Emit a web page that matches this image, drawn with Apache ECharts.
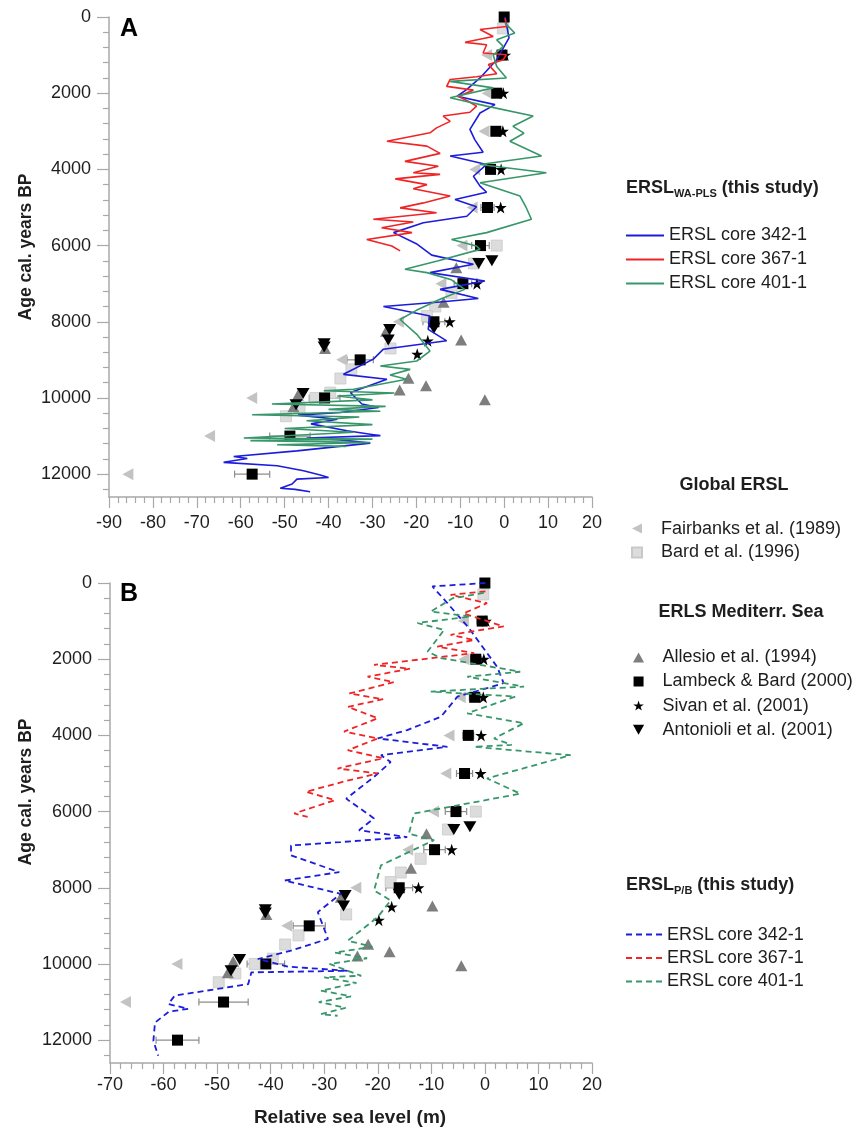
<!DOCTYPE html>
<html>
<head>
<meta charset="utf-8">
<script src="https://cdn.jsdelivr.net/npm/echarts@6/dist/echarts.min.js"></script>
<style>
html,body{margin:0;padding:0;background:#fff;}
#chart{width:862px;height:1130px;}
</style>
</head>
<body>
<div id="chart"></div>
<script>
// ---------- tick labels ----------
const ageTicks = [0, 2000, 4000, 6000, 8000, 10000, 12000];
const ageMinorTicks = [400,800,1200,1600,2400,2800,3200,3600,4400,4800,5200,5600,6400,6800,7200,7600,8400,8800,9200,9600,10400,10800,11200,11600,12400];
const AGE_MAX = 12600;

// ---------- reference data points [sea level (m), age cal. BP] ----------
const fairbanks = [[-85.7,12000],[-67.1,11000],[-57.5,10000],[-37,9000],[-24.1,8000],[-14.4,7000],[-9.6,6000],[-7.3,5000],[-6.7,4000],[-4.6,3000],[-3.9,2000],[-4,1000],[-0.3,200]];
const bard = [[-0.3,300],[-1.7,6000],[-6.9,6470],[-12,7240],[-15.7,7600],[-17.6,7850],[-25.9,8700],[-34.8,9250],[-37.3,9490],[-39.6,9860],[-43,10000],[-46.6,10250],[-49.7,10480]];
const allesio = [[-10.9,6580],[-13.8,7490],[-26.9,8250],[-9.8,8480],[-40.8,8700],[-21.8,9480],[-17.8,9680],[-23.8,9790],[-47,9930],[-48,10230],[-4.4,10050]];
const lambeck = [[0,0],[-0.5,1000],[-1.7,2000],[-1.9,3000],[-3.1,4000],[-3.8,5000],[-5.4,6000],[-9.4,7000],[-16,8000],[-32.8,9000],[-40.9,10000],[-48.8,11000],[-57.4,12000]];
const lambeckErr = [0.5,1,1,1,1,1.5,2,2,2.5,3,3.5,4.6,4];
const sivan = [[0.2,1000],[-0.2,2000],[-0.3,3000],[-0.7,4000],[-0.8,5000],[-6.2,7000],[-12.4,8000],[-17.4,8500],[-19.8,8850]];
const antonioli = [[-2.8,6400],[-5.8,6470],[-16,8170],[-26.1,8200],[-26.4,8480],[-41,8580],[-41,8660],[-45.8,9880],[-47.4,10180]];

// ---------- Panel A: ERSL WA-PLS curves ----------
const blueA = [[0.2,0],[1.1,550],[-1.7,1120],[-5.5,1600],[-8.5,1900],[-10.7,2080],[-2.1,2300],[-5.5,2520],[-7.8,2950],[-6.7,3220],[-4.8,3550],[-12.3,3650],[-4,3870],[-7,4180],[-5.5,4440],[-4,4600],[-11.2,4790],[-6.3,4980],[-8.5,5230],[-18.4,5400],[-25.2,5660],[-20,5950],[-16.5,6250],[-7,6490],[-16.9,6710],[-4.4,6930],[-14.6,7150],[-5.9,7390],[-14.6,7480],[-27.5,7600],[-16.9,7850],[-17.3,8200],[-13.1,8500],[-27.5,8720],[-29.8,8980],[-36.6,9380],[-26.7,9510],[-35,9860],[-32.4,10160],[-28.6,10250],[-37.3,10380],[-47,10450],[-38,10560],[-44,10680],[-35.8,10860],[-28.2,10990],[-45,11050],[-37.3,11100],[-30.5,11185],[-47.2,11390],[-61.6,11535],[-58.5,11590],[-63.9,11690],[-51.7,11780],[-45.7,11910],[-41.9,12020],[-40,12090],[-47.2,12130],[-48.3,12260],[-51,12370],[-47.6,12400],[-44.2,12460]];
const redA = [[0.2,30],[0.5,250],[-5.5,330],[-2.5,510],[-8.9,665],[-4,730],[-4.8,945],[0.5,990],[-0.2,1120],[-3.6,1250],[-1.7,1490],[-6.3,1570],[-12.3,1640],[-13.1,1820],[-7,1920],[-10.5,2080],[-8.2,2210],[-6.3,2340],[-7.8,2500],[-13.9,2600],[-12.3,2740],[-15.4,2910],[-16.9,3040],[-26.7,3260],[-17.6,3390],[-14.6,3580],[-22.6,3790],[-15,3920],[-20.7,4090],[-14.6,4130],[-24.8,4250],[-17.6,4400],[-20.7,4510],[-12.3,4700],[-18.4,4880],[-23.7,5010],[-15.4,5140],[-29.8,5310],[-20.7,5380],[-27.9,5530],[-21,5660],[-31.3,5840],[-25.6,6010],[-23.7,6140]];
const greenA = [[0.2,160],[2.4,420],[-1.7,600],[-0.2,770],[-2.5,1000],[-1.7,1300],[0.5,1600],[-12.3,1690],[-2.5,1860],[-12.3,2120],[-4,2340],[6.6,2600],[2,2870],[4.5,3050],[1.3,3260],[8.5,3650],[-5.5,3870],[9.6,4090],[-5.5,4350],[3.6,4700],[5,5000],[6.2,5310],[-4,5660],[-12,5840],[-6.3,6010],[-5.5,6100],[-15,6400],[-22.6,6620],[-17.6,6710],[-12,6900],[-9,7150],[-14.6,7410],[-20,7700],[-23.7,7940],[-19.9,8330],[-16.9,8770],[-19.9,9030],[-28.2,9160],[-21.4,9250],[-26,9400],[-22.2,9510],[-34.3,9770],[-41.1,9810],[-25,9870],[-38,9950],[-30,10050],[-52.9,10160],[-27,10220],[-40,10300],[-28.2,10350],[-57.4,10440],[-33,10500],[-45,10600],[-30,10700],[-50,10800],[-34.3,10900],[-59.3,11050],[-30,11080],[-57.8,11120],[-30.5,11170],[-51.7,11230],[-36,11270]];

// ---------- Panel B: ERSL P/B curves ----------
const blueB = [[0.1,0],[-9.8,90],[-7.3,480],[-3,1180],[0.4,1840],[2.3,2200],[3.5,2630],[0.4,2760],[-5.1,2980],[-8.2,3510],[-14.5,3860],[-20,4080],[-7,4300],[-19.4,4520],[-17.6,4700],[-20.7,5090],[-25.9,5660],[-20.7,6180],[-23.5,6490],[-14.5,6670],[-26.9,6800],[-36.2,6890],[-36.2,7150],[-27.2,7590],[-37.4,7810],[-26.9,8160],[-31.2,8640],[-29.3,9340],[-36.2,9650],[-42.4,9870],[-36.8,10070],[-25.6,10180],[-43.6,10220],[-44.2,10530],[-57.9,10830],[-59.1,11050],[-55.4,11180],[-59,11250],[-61.6,11540],[-61.9,12020],[-61,12410]];
const redB = [[0.1,220],[-6.4,310],[0.4,530],[-4,800],[3.5,1140],[-6.4,1360],[-2,1500],[-8.9,1670],[-2,1840],[-20.7,2150],[-14,2250],[-21.9,2460],[-17,2600],[-25.3,2900],[-19,3050],[-25.6,3250],[-20,3550],[-26.3,3900],[-20,4080],[-25.6,4390],[-19,4600],[-27.5,4870],[-20,5000],[-26,5200],[-33.4,5480],[-28,5700],[-35.6,6050],[-33.1,6140]];
const greenB = [[-0.2,260],[-6,400],[-10.1,750],[-2.7,880],[-12.6,1050],[-7.6,1230],[-10.7,1800],[-8.2,1970],[6.6,2330],[-3.3,2460],[7.3,2720],[-10.1,2850],[5.7,2980],[-3.3,3420],[7.3,3680],[1.7,4080],[5,4250],[-2,4300],[16,4520],[0.4,5130],[6.6,5530],[-13.2,6050],[-14.2,6580],[-9.5,6750],[-19.4,7410],[-20.7,8070],[-17.6,8330],[-20,8770],[-25.6,9390],[-21,9550],[-28,9700],[-22,9850],[-29,10000],[-23.1,10310],[-30,10350],[-24,10500],[-30.6,10700],[-25,10850],[-31,11000],[-26,11150],[-30.6,11320],[-27.5,11360]];

// ---------- styling ----------
const F = 'Liberation Sans, Arial, Helvetica, sans-serif';
const TXT = '#1e1e1e';
const AX = '#a8a8a8';
const C_BLUE = '#1c1cdc', C_RED = '#f02424', C_GREEN = '#37976a';
const STAR = 'path://M50,0 L61.8,35.3 L99,35.3 L69,57.2 L80.4,92.6 L50,70.8 L19.6,92.6 L31,57.2 L1,35.3 L38.2,35.3 Z';
const TRI_LEFT = 'path://M100,0 L100,100 L0,50 Z';
const TRI_DOWN = 'path://M0,0 L100,0 L50,90 Z';
const TRI_UP = 'path://M50,0 L100,90 L0,90 Z';
const SQUARE = 'path://M0,0 L100,0 L100,100 L0,100 Z';

const chart = echarts.init(document.getElementById('chart'), null, {renderer:'canvas'});
const plain = v => String(v);

function xAxisDef(grid, min, margin){
  return {type:'value', gridIndex:grid, min:min, max:20, interval:10, position:'bottom',
    axisLine:{show:true, onZero:false, lineStyle:{color:AX, width:1.5}},
    axisTick:{show:true, length:11, lineStyle:{color:AX, width:1.2}},
    minorTick:{show:true, splitNumber:5, length:6, lineStyle:{color:AX, width:1.2}},
    splitLine:{show:false}, minorSplitLine:{show:false},
    axisLabel:{fontSize:18, color:TXT, fontFamily:F, margin:margin, formatter:plain}};
}
function yAxisDefs(grid){
  return [
    {type:'value', gridIndex:grid, min:0, max:AGE_MAX, inverse:true, position:'left',
     axisLine:{show:true, onZero:false, lineStyle:{color:AX, width:1.5}},
     axisTick:{show:true, length:12, customValues:ageTicks, lineStyle:{color:AX, width:1.2}},
     axisLabel:{customValues:ageTicks, fontSize:18, color:TXT, fontFamily:F, margin:18, formatter:plain},
     splitLine:{show:false}},
    {type:'value', gridIndex:grid, min:0, max:AGE_MAX, inverse:true, position:'left',
     axisLine:{show:false, onZero:false}, axisLabel:{show:false}, splitLine:{show:false},
     axisTick:{show:true, length:6, customValues:ageMinorTicks, lineStyle:{color:AX, width:1.2}}}
  ];
}

function errRender(params, api){
  const v = api.value(0), a = api.value(1), e = api.value(2);
  const p1 = api.coord([v - e, a]), p2 = api.coord([v + e, a]);
  const st = {stroke:'#8c8c8c', lineWidth:1.2};
  return {type:'group', children:[
    {type:'line', shape:{x1:p1[0], y1:p1[1], x2:p2[0], y2:p2[1]}, style:st},
    {type:'line', shape:{x1:p1[0], y1:p1[1]-3.5, x2:p1[0], y2:p1[1]+3.5}, style:st},
    {type:'line', shape:{x1:p2[0], y1:p2[1]-3.5, x2:p2[0], y2:p2[1]+3.5}, style:st}
  ]};
}

const errData = lambeck.map((d, i) => [d[0], d[1], lambeckErr[i]]);

function panelSeries(p, dashed){
  const xi = p, yi = p * 2;
  const base = {xAxisIndex:xi, yAxisIndex:yi};
  const sc = (name, data, symbol, size, color, extra) => Object.assign({
    name:name, type:'scatter', data:data, symbol:symbol, symbolSize:size,
    itemStyle:Object.assign({color:color, opacity:1}, (extra && extra.itemStyle) || {}),
    z:3, clip:true, emphasis:{disabled:true}
  }, base);
  const names = dashed ? ['ERSL\u2009core 342-1','ERSL\u2009core 367-1','ERSL\u2009core 401-1']
                       : ['ERSL core 342-1','ERSL core 367-1','ERSL core 401-1'];
  const curves = dashed ? [blueB, redB, greenB] : [blueA, redA, greenA];
  const cols = [C_BLUE, C_RED, C_GREEN];
  const ls = [];
  for (let i = 0; i < 3; i++) {
    ls.push(Object.assign({
      name:names[i], type:'line', data:curves[i], symbol:'none', showSymbol:false,
      lineStyle:{color:cols[i], width:dashed ? 1.8 : 1.6, type:dashed ? [6,4] : 'solid'},
      itemStyle:{color:cols[i]}, z:5, clip:true, emphasis:{disabled:true}, animation:false
    }, base));
  }
  return [
    Object.assign({type:'custom', name:'Lambeck error', renderItem:errRender, data:errData, z:2, clip:true, silent:true}, base),
    sc('Fairbanks et al. (1989)', fairbanks, TRI_LEFT, [11,12], '#c3c3c3'),
    sc('Bard et al. (1996)', bard, SQUARE, 11, '#dcdcdc', {itemStyle:{borderColor:'#c9c9c9', borderWidth:0.8}}),
    sc('Allesio et al. (1994)', allesio, TRI_UP, [12,11], '#7e7e7e'),
    sc('Lambeck & Bard (2000)', lambeck, SQUARE, 11, '#000000'),
    sc('Sivan et al. (2001)', sivan, STAR, 12, '#000000'),
    sc('Antonioli et al. (2001)', antonioli, TRI_DOWN, [13,11], '#000000')
  ].concat(ls);
}

const legendText = {fontSize:18, color:TXT, fontFamily:F};
const legendBase = {orient:'vertical', padding:0, selectedMode:false, itemHeight:10, textStyle:legendText};
const lineLegend = {itemStyle:{opacity:0}};

const option = {
  backgroundColor:'#ffffff',
  animation:false,
  grid:[
    {left:109, top:17, width:483, height:480},
    {left:110, top:583, width:482, height:480}
  ],
  xAxis:[xAxisDef(0, -90, 17), xAxisDef(1, -70, 13)],
  yAxis:yAxisDefs(0).concat(yAxisDefs(1)),
  legend:[
    Object.assign({}, legendBase, lineLegend, {left:625, top:226.4, itemWidth:38, itemGap:6,
      data:['ERSL core 342-1','ERSL core 367-1','ERSL core 401-1']}),
    Object.assign({}, legendBase, {left:631, top:519.6, itemWidth:14, itemGap:5.8,
      textStyle:Object.assign({}, legendText, {padding:[0,0,0,12]}),
      data:[{name:'Fairbanks et al. (1989)', icon:TRI_LEFT},{name:'Bard et al. (1996)', icon:SQUARE}]}),
    Object.assign({}, legendBase, {left:633, top:648.4, itemWidth:14, itemGap:6.1,
      textStyle:Object.assign({}, legendText, {padding:[0,0,0,12]}),
      data:[{name:'Allesio et al. (1994)', icon:TRI_UP},{name:'Lambeck & Bard (2000)', icon:SQUARE},{name:'Sivan et al. (2001)', icon:STAR},{name:'Antonioli et al. (2001)', icon:TRI_DOWN}]}),
    Object.assign({}, legendBase, lineLegend, {left:625, top:925.6, itemWidth:36, itemGap:5.4,
      data:['ERSL\u2009core 342-1','ERSL\u2009core 367-1','ERSL\u2009core 401-1']})
  ],
  graphic:[
    {type:'text', x:120, y:17, style:{text:'A', font:'bold 25px ' + F, fill:'#000', align:'left', verticalAlign:'top'}},
    {type:'text', x:120, y:582, style:{text:'B', font:'bold 25px ' + F, fill:'#000', align:'left', verticalAlign:'top'}},
    {type:'text', x:26, y:247, rotation:Math.PI/2, style:{text:'Age cal. years BP', font:'bold 17.5px ' + F, fill:TXT, align:'center', verticalAlign:'middle'}},
    {type:'text', x:26, y:792, rotation:Math.PI/2, style:{text:'Age cal. years BP', font:'bold 17.5px ' + F, fill:TXT, align:'center', verticalAlign:'middle'}},
    {type:'text', x:350, y:1118, style:{text:'Relative sea level (m)', font:'bold 19px ' + F, fill:TXT, align:'center', verticalAlign:'middle'}},
    {type:'text', x:626, y:177, style:{text:'{b|ERSL}{s|WA-PLS}{b| (this study)}', rich:{
      b:{fontSize:18, fontWeight:'bold', fontFamily:F, fill:TXT, lineHeight:22},
      s:{fontSize:11, fontWeight:'bold', fontFamily:F, fill:TXT, lineHeight:12, verticalAlign:'bottom'}}}},
    {type:'text', x:734, y:485, style:{text:'Global ERSL', font:'bold 18px ' + F, fill:TXT, align:'center', verticalAlign:'middle'}},
    {type:'text', x:741, y:612, style:{text:'ERLS Mediterr. Sea', font:'bold 18px ' + F, fill:TXT, align:'center', verticalAlign:'middle'}},
    {type:'text', x:626, y:874, style:{text:'{b|ERSL}{s|P/B}{b| (this study)}', rich:{
      b:{fontSize:18, fontWeight:'bold', fontFamily:F, fill:TXT, lineHeight:22},
      s:{fontSize:11, fontWeight:'bold', fontFamily:F, fill:TXT, lineHeight:12, verticalAlign:'bottom'}}}}
  ],
  series:panelSeries(0, false).concat(panelSeries(1, true))
};
chart.setOption(option);
</script>
</body>
</html>
